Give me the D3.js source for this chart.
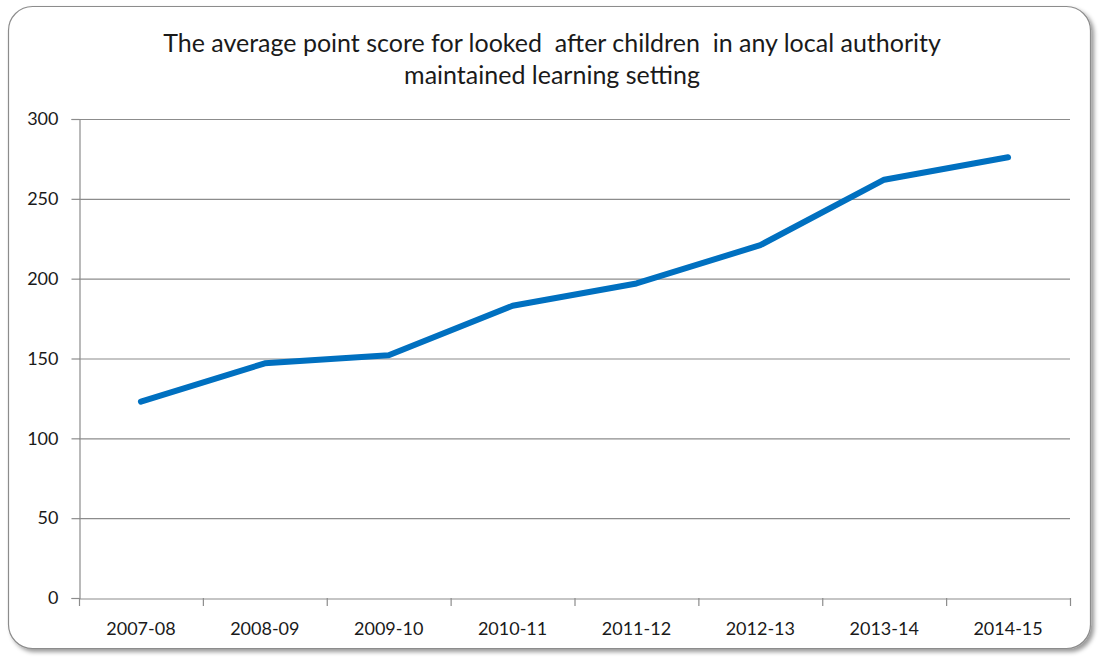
<!DOCTYPE html>
<html><head><meta charset="utf-8">
<script src="https://cdn.jsdelivr.net/npm/d3@7"></script>
<style>body{margin:0;background:#fff;} svg{display:block;}</style>
</head><body>
<script>
const categories = ["2007-08","2008-09","2009-10","2010-11","2011-12","2012-13","2013-14","2014-15"];
const values = [123, 147, 152, 183, 197, 221, 262, 276];
const yTicks = [0, 50, 100, 150, 200, 250, 300];
const titleLines = ["The average point score for looked  after children  in any local authority", "maintained learning setting"];

const W = 1101, H = 657;
const svg = d3.select("body").append("svg").attr("width", W).attr("height", H);
const defs = svg.append("defs");
const f = defs.append("filter").attr("id","sh").attr("x","-5%").attr("y","-5%").attr("width","110%").attr("height","110%");
f.append("feDropShadow").attr("dx",3).attr("dy",3).attr("stdDeviation",2).attr("flood-color","#000").attr("flood-opacity",0.4);

svg.append("rect").attr("x",8.5).attr("y",6.5).attr("width",1082).attr("height",642)
  .attr("rx",24).attr("fill","#fff").attr("stroke","#8c8c8c").attr("stroke-width",1.2).attr("filter","url(#sh)");

const font = "Lato, 'Open Sans', sans-serif";
const m = {left:79, right:1070, top:119, bottom:598};
const x = d3.scaleBand().domain(categories).range([m.left, m.right]).padding(0);
const y = d3.scaleLinear().domain([0,300]).range([m.bottom, m.top]);

svg.append("g").selectAll("text").data(titleLines).join("text")
  .attr("x", 552).attr("y",(d,i)=>52+i*32).attr("text-anchor","middle")
  .style("white-space","pre")
  .attr("font-family",font).attr("font-size",25).attr("fill","#1a1a1a").text(d=>d);

// gridlines
svg.append("g").selectAll("line").data(yTicks.filter(t=>t>0)).join("line")
  .attr("x1",m.left).attr("x2",m.right).attr("y1",d=>y(d)+0.5).attr("y2",d=>y(d)+0.5)
  .attr("stroke","#8c8c8c").attr("stroke-width",1.2);

const yAxis = svg.append("g").attr("transform",`translate(${m.left+0.5},0)`)
  .call(d3.axisLeft(y).tickValues(yTicks).tickSize(8).tickPadding(13));
yAxis.select(".domain").attr("stroke","#8c8c8c").attr("stroke-width",1.2);
yAxis.selectAll(".tick line").attr("stroke","#8c8c8c").attr("stroke-width",1.2);
yAxis.selectAll("text").attr("font-family",font).attr("font-size",18).attr("fill","#1a1a1a");

const xAxis = svg.append("g").attr("transform",`translate(0,${m.bottom+0.5})`)
  .call(d3.axisBottom(x).tickSize(0).tickPadding(24));
xAxis.select(".domain").attr("stroke","#8c8c8c").attr("stroke-width",1.2);
xAxis.selectAll("text").attr("font-family",font).attr("font-size",18).attr("fill","#1a1a1a");
// category boundary ticks
const bounds = categories.map(c=>x(c)).concat([m.right]);
svg.append("g").selectAll("line").data(bounds).join("line")
  .attr("x1",d=>d+0.5).attr("x2",d=>d+0.5).attr("y1",m.bottom).attr("y2",m.bottom+8)
  .attr("stroke","#8c8c8c").attr("stroke-width",1.2);

const line = d3.line().x((d,i)=>x(categories[i])+x.bandwidth()/2).y(d=>y(d));
svg.append("path").datum(values).attr("d",line).attr("fill","none")
  .attr("stroke","#0070c0").attr("stroke-width",6).attr("stroke-linecap","round").attr("stroke-linejoin","round");
</script>
</body></html>
